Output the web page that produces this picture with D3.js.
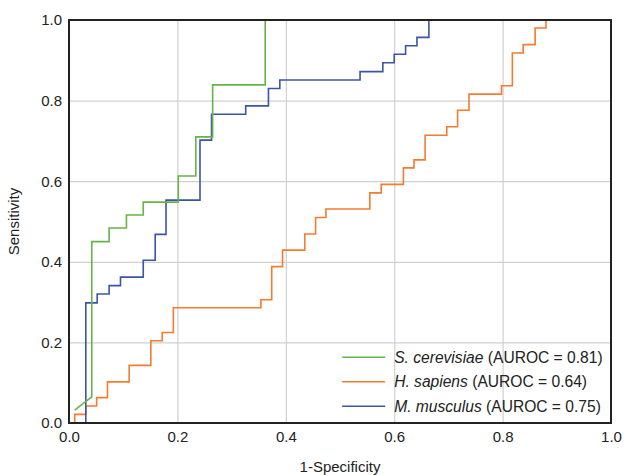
<!DOCTYPE html>
<html>
<head>
<meta charset="utf-8">
<script src="https://cdn.jsdelivr.net/npm/d3@7"></script>
<style>
  body { margin: 0; background: #fff; }
  text { font-family: "Liberation Sans", Arial, sans-serif; fill: #222; }
  .grid line { stroke: #d0d0d0; stroke-width: 1.2; }
  .grid path { display: none; }
</style>
</head>
<body>
<svg id="chart" width="624" height="475"></svg>
<script>
// ROC curves, [1-specificity, sensitivity]
var cerevisiae = [[0.0105, 0.032], [0.042, 0.065], [0.042, 0.45], [0.074, 0.45], [0.074, 0.484],
    [0.106, 0.484], [0.106, 0.516], [0.137, 0.516], [0.137, 0.548], [0.2017, 0.548],
    [0.2017, 0.613], [0.234, 0.613], [0.234, 0.71], [0.265, 0.71], [0.265, 0.839],
    [0.362, 0.839], [0.362, 1.0]];

var sapiens = [[0.0105, 0], [0.0105, 0.0215], [0.031, 0.0215], [0.031, 0.042], [0.051, 0.042],
    [0.051, 0.063], [0.071, 0.063], [0.071, 0.102], [0.111, 0.102], [0.111, 0.143],
    [0.151, 0.143], [0.151, 0.204], [0.172, 0.204], [0.172, 0.2245], [0.1925, 0.2245],
    [0.1925, 0.286], [0.354, 0.286], [0.354, 0.306], [0.374, 0.306], [0.374, 0.388],
    [0.394, 0.388], [0.394, 0.429], [0.435, 0.429], [0.435, 0.469], [0.455, 0.469],
    [0.455, 0.51], [0.474, 0.51], [0.474, 0.531], [0.555, 0.531], [0.555, 0.571],
    [0.576, 0.571], [0.576, 0.592], [0.617, 0.592], [0.617, 0.633], [0.6365, 0.633],
    [0.6365, 0.653], [0.657, 0.653], [0.657, 0.714], [0.697, 0.714], [0.697, 0.735],
    [0.717, 0.735], [0.717, 0.776], [0.738, 0.776], [0.738, 0.816], [0.798, 0.816],
    [0.798, 0.837], [0.818, 0.837], [0.818, 0.918], [0.838, 0.918], [0.838, 0.939],
    [0.86, 0.939], [0.86, 0.98], [0.88, 0.98], [0.88, 1.0]];

var musculus = [[0.0105, 0], [0.031, 0], [0.031, 0.298], [0.052, 0.298], [0.052, 0.32],
    [0.074, 0.32], [0.074, 0.341], [0.095, 0.341], [0.095, 0.362], [0.137, 0.362],
    [0.137, 0.404], [0.159, 0.404], [0.159, 0.468], [0.179, 0.468], [0.179, 0.553],
    [0.2417, 0.553], [0.2417, 0.702], [0.263, 0.702], [0.263, 0.766], [0.326, 0.766],
    [0.326, 0.787], [0.368, 0.787], [0.368, 0.83], [0.389, 0.83], [0.389, 0.851],
    [0.537, 0.851], [0.537, 0.872], [0.579, 0.872], [0.579, 0.894], [0.600, 0.894],
    [0.600, 0.915], [0.621, 0.915], [0.621, 0.936], [0.642, 0.936], [0.642, 0.957],
    [0.664, 0.957], [0.664, 1.0]];

var seriesNames = ["S. cerevisiae", "H. sapiens", "M. musculus"];
var aurocs = ["0.81", "0.64", "0.75"];
var colors = ["#66b446", "#f47b30", "#3b55a5"];
var ticks = [0, 0.2, 0.4, 0.6, 0.8, 1.0];

var svg = d3.select("#chart");
var margin = {top: 20, right: 13, bottom: 52, left: 69};
var width = 624 - margin.left - margin.right;
var height = 475 - margin.top - margin.bottom;

var x = d3.scaleLinear().domain([0, 1]).range([0, width]);
var y = d3.scaleLinear().domain([0, 1]).range([height, 0]);

var root = svg.append("g")
    .attr("transform", "translate(" + margin.left + "," + margin.top + ")");

// grid
root.append("g")
    .attr("class", "grid")
    .attr("transform", "translate(0," + height + ")")
    .call(d3.axisBottom(x).tickValues(ticks).tickSize(-height).tickFormat(""));
root.append("g")
    .attr("class", "grid")
    .call(d3.axisLeft(y).tickValues(ticks).tickSize(-width).tickFormat(""));

var line = d3.line()
    .x(function (d) { return x(d[0]); })
    .y(function (d) { return y(d[1]); });

var data = [cerevisiae, sapiens, musculus];
// drawn order: orange under, blue, green
[1, 2, 0].forEach(function (i) {
    root.append("path")
        .datum(data[i])
        .attr("d", line)
        .attr("fill", "none")
        .attr("stroke", colors[i])
        .attr("stroke-width", 1.6);
});

// frame
root.append("rect")
    .attr("width", width).attr("height", height)
    .attr("fill", "none")
    .attr("stroke", "#222")
    .attr("stroke-width", 2);

// tick labels
var xAxis = root.append("g")
    .attr("transform", "translate(0," + height + ")")
    .call(d3.axisBottom(x).tickValues(ticks).tickSize(0).tickPadding(8).tickFormat(d3.format(".1f")));
var yAxis = root.append("g")
    .call(d3.axisLeft(y).tickValues(ticks).tickSize(0).tickPadding(7).tickFormat(d3.format(".1f")));
[xAxis, yAxis].forEach(function (a) {
    a.select(".domain").remove();
    a.selectAll("text")
        .style("font-size", "15px")
        .attr("fill", "#222");
});

// axis titles
root.append("text")
    .attr("x", x(0.5)).attr("y", height + 49)
    .attr("text-anchor", "middle")
    .style("font-size", "15px")
    .text("1-Specificity");
root.append("text")
    .attr("transform", "translate(" + (-50) + "," + y(0.5) + ") rotate(-90)")
    .attr("text-anchor", "middle")
    .style("font-size", "15px")
    .text("Sensitivity");

// legend
var legend = root.append("g")
    .attr("transform", "translate(" + (x(0.504)) + "," + y(0.163) + ")");
seriesNames.forEach(function (name, i) {
    var row = legend.append("g").attr("transform", "translate(0," + (i * 24.5) + ")");
    row.append("line")
        .attr("x1", 0).attr("x2", 43)
        .attr("y1", 0).attr("y2", 0)
        .attr("stroke", colors[i]).attr("stroke-width", 1.6);
    var t = row.append("text")
        .attr("x", 52).attr("y", 5.5)
        .style("font-size", "15.6px");
    t.append("tspan").style("font-style", "italic").text(name);
    t.append("tspan").text(" (AUROC = " + aurocs[i] + ")");
});
</script>
</body>
</html>
